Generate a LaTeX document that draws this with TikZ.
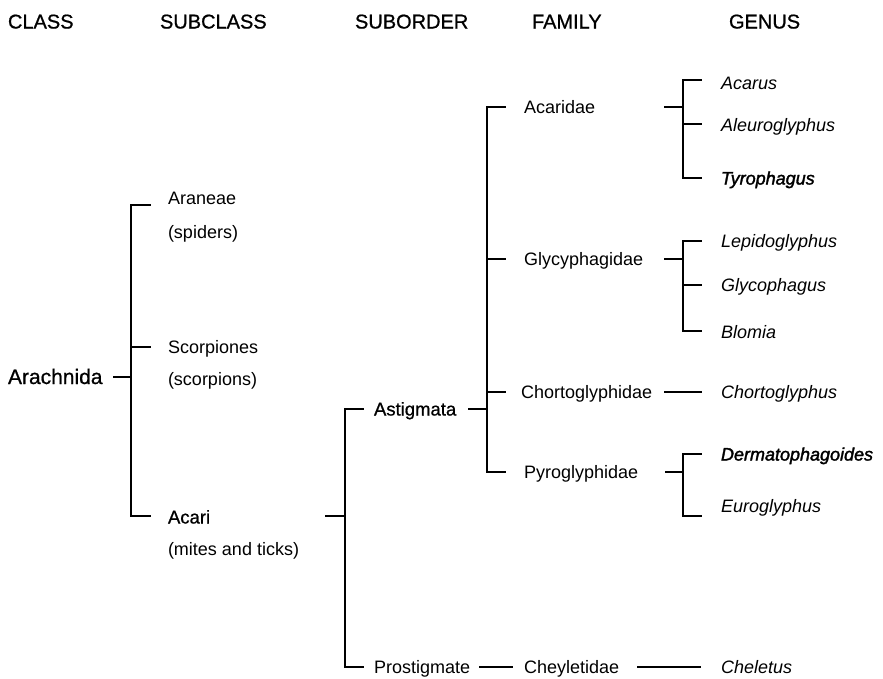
\documentclass[tikz,border=0pt]{standalone}
\usepackage{fontspec}
\setmainfont{Liberation Sans}
\newfontfamily\heavy[FakeBold=0.8]{Liberation Sans}
\newfontfamily\heavier[FakeBold=1.8]{Liberation Sans}
\begin{document}
\begin{tikzpicture}[x=1pt,y=-1pt,
  lbl/.style={anchor=base west, inner sep=0pt, outer sep=0pt, font=\fontsize{18}{20}\selectfont},
  hdr/.style={lbl, font=\fontsize{20}{22}\selectfont\heavy},
  gen/.style={lbl, font=\fontsize{18}{20}\selectfont\itshape},
  genb/.style={lbl, font=\fontsize{18}{20}\selectfont\heavier\itshape},
  keylbl/.style={lbl, font=\fontsize{18.5}{20}\selectfont\heavy},
  link/.style={line width=1.2pt, line cap=rect}]
\useasboundingbox (0,0) rectangle (883,678);

% headers
\node[hdr] (hclass) at (8,28.5) {CLASS};
\node[hdr] (hsubclass) at (160,28.5) {SUBCLASS};
\node[hdr] (hsuborder) at (355,28.5) {SUBORDER};
\node[hdr] (hfamily) at (532,28.5) {FAMILY};
\node[hdr] (hgenus) at (729,28.5) {GENUS};

% class
\node[lbl, font=\fontsize{21}{23}\selectfont\heavy] (arach) at (8,384) {Arachnida};

% subclass
\node[lbl] (araneae) at (168,204.5) {Araneae};
\node[lbl] (spiders) at (168,238) {(spiders)};
\node[lbl] (scorp) at (168,353.5) {Scorpiones};
\node[lbl] (scorpions) at (168,385) {(scorpions)};
\node[keylbl] (acari) at (168,523.5) {Acari};
\node[lbl] (mites) at (168,555) {(mites and ticks)};

% suborder
\node[keylbl] (astig) at (374,415.5) {Astigmata};
\node[lbl] (prostig) at (374,673.5) {Prostigmate};

% family
\node[lbl] (acaridae) at (524,113.5) {Acaridae};
\node[lbl] (glyc) at (524,265.5) {Glycyphagidae};
\node[lbl] (chorto) at (521,398.5) {Chortoglyphidae};
\node[lbl] (pyro) at (524,478.5) {Pyroglyphidae};
\node[lbl] (cheyl) at (524,673.5) {Cheyletidae};

% genus
\node[gen] (acarus) at (721,89.5) {Acarus};
\node[gen] (aleuro) at (721,131.5) {Aleuroglyphus};
\node[genb] (tyro) at (721,184.5) {Tyrophagus};
\node[gen] (lepido) at (721,247.5) {Lepidoglyphus};
\node[gen] (glyco) at (721,291.5) {Glycophagus};
\node[gen] (blomia) at (721,338.5) {Blomia};
\node[gen] (chortog) at (721,398.5) {Chortoglyphus};
\node[genb] (dermato) at (721,460.5) {Dermatophagoides};
\node[gen] (euro) at (721,512.5) {Euroglyphus};
\node[gen] (cheletus) at (721,673.5) {Cheletus};

% connector points
\coordinate (a0) at (114,377);
\coordinate (a1) at (131,377);
\coordinate (a2) at (131,205);
\coordinate (a3) at (131,347);
\coordinate (a4) at (131,516);
\coordinate (a2e) at (150,205);
\coordinate (a3e) at (150,347);
\coordinate (a4e) at (150,516);

\coordinate (b0) at (326,516);
\coordinate (b1) at (345,516);
\coordinate (b2) at (345,409);
\coordinate (b3) at (345,667);
\coordinate (b2e) at (363,409);
\coordinate (b3e) at (363,667);

\coordinate (c0) at (469,409);
\coordinate (c1) at (487,409);
\coordinate (c2) at (487,107);
\coordinate (c3) at (487,259);
\coordinate (c4) at (487,392);
\coordinate (c5) at (487,472);
\coordinate (c2e) at (505,107);
\coordinate (c3e) at (505,259);
\coordinate (c4e) at (505,392);
\coordinate (c5e) at (505,472);

\coordinate (p0) at (480,667);
\coordinate (p1) at (512,667);
\coordinate (q0) at (638,667);
\coordinate (q1) at (700,667);

\coordinate (d0) at (665,107);
\coordinate (d1) at (683,107);
\coordinate (d2) at (683,80);
\coordinate (d3) at (683,124);
\coordinate (d4) at (683,178);
\coordinate (d2e) at (701,80);
\coordinate (d3e) at (701,124);
\coordinate (d4e) at (701,178);

\coordinate (e0) at (665,259);
\coordinate (e1) at (683,259);
\coordinate (e2) at (683,241);
\coordinate (e3) at (683,285);
\coordinate (e4) at (683,331);
\coordinate (e2e) at (701,241);
\coordinate (e3e) at (701,285);
\coordinate (e4e) at (701,331);

\coordinate (f0) at (665,392);
\coordinate (f1) at (701,392);

\coordinate (g0) at (666,472);
\coordinate (g1) at (683,472);
\coordinate (g2) at (683,454);
\coordinate (g4) at (683,516);
\coordinate (g2e) at (701,454);
\coordinate (g4e) at (701,516);

% connectors
\draw[link] (a0) -- (a1);
\draw[link] (a2e) -- (a2) -- (a4) -- (a4e);
\draw[link] (a3) -- (a3e);

\draw[link] (b0) -- (b1);
\draw[link] (b2e) -- (b2) -- (b3) -- (b3e);

\draw[link] (c0) -- (c1);
\draw[link] (c2e) -- (c2) -- (c5) -- (c5e);
\draw[link] (c3) -- (c3e);
\draw[link] (c4) -- (c4e);

\draw[link] (p0) -- (p1);
\draw[link] (q0) -- (q1);

\draw[link] (d0) -- (d1);
\draw[link] (d2e) -- (d2) -- (d4) -- (d4e);
\draw[link] (d3) -- (d3e);

\draw[link] (e0) -- (e1);
\draw[link] (e2e) -- (e2) -- (e4) -- (e4e);
\draw[link] (e3) -- (e3e);

\draw[link] (f0) -- (f1);

\draw[link] (g0) -- (g1);
\draw[link] (g2e) -- (g2) -- (g4) -- (g4e);
\end{tikzpicture}
\end{document}
